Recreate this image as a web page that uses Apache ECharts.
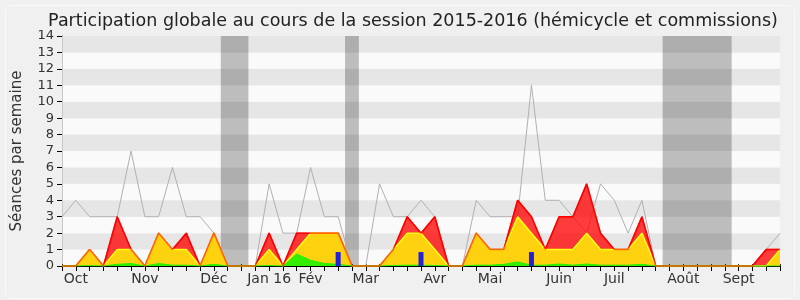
<!DOCTYPE html>
<html>
<head>
<meta charset="utf-8">
<script src="https://cdn.jsdelivr.net/npm/echarts@6/dist/echarts.min.js"></script>
<style>html,body{margin:0;padding:0;background:#f0f0f0;}#c{width:800px;height:300px;}</style>
</head>
<body>
<div id="c"></div>
<script>
// Week index (0 = first week of the session)
const weeks = [0,1,2,3,4,5,6,7,8,9,10,11,12,13,14,15,16,17,18,19,20,21,22,23,24,25,26,27,28,29,30,31,32,33,34,35,36,37,38,39,40,41,42,43,44,45,46,47,48,49,50,51,52];
// Total séances (grey line)
const totalSeances = [3,4,3,3,3,7,3,3,6,3,3,2,0,0,0,5,2,2,6,3,3,0,0,5,3,3,4,3,0,0,4,3,3,3,11,4,4,3,2,5,4,2,4,0,0,0,0,0,0,0,0,1,2];
// Présences (red area)
const presences = [0,0,1,0,3,1,0,2,1,2,0,2,0,0,0,2,0,2,2,2,2,0,0,0,1,3,2,3,0,0,2,1,1,4,3,1,3,3,5,2,1,1,3,0,0,0,0,0,0,0,0,1,1];
// Présences hémicycle/commission (yellow area)
const presencesCommission = [0,0,1,0,1,1,0,2,1,1,0,2,0,0,0,1,0,1,2,2,2,0,0,0,1,2,2,1,0,0,2,1,1,3,2,1,1,1,2,1,1,1,2,0,0,0,0,0,0,0,0,0,1];
// Interventions (green area)
const interventions = [0,0,0.02,0,0.1,0.15,0,0.15,0.05,0.05,0,0.1,0,0,0,0.03,0,0.73,0.35,0.15,0.1,0,0,0,0.03,0.05,0.05,0.03,0,0,0.05,0.05,0.1,0.25,0.05,0.05,0.12,0.05,0.12,0.05,0.05,0.05,0.1,0,0,0,0,0,0,0,0,0,0];
// Questions orales (blue bars)
const questionWeeks = [20, 26, 34];
const questionValues = [0.85, 0.85, 0.85];
// Vacations (grey bands), in weeks
const vacStart = [11.5, 20.5, 43.5];
const vacEnd = [13.5, 21.5, 48.5];
// Month tick labels
const monthWeeks = [1, 6, 11, 15, 18, 22, 27, 31, 36, 40, 45, 49];
const monthLabels = ['Oct', 'Nov', 'Déc', 'Jan 16', 'Fév', 'Mar', 'Avr', 'Mai', 'Juin', 'Juil', 'Août', 'Sept'];
const yTicks = [0,1,2,3,4,5,6,7,8,9,10,11,12,13,14];

const FONT = 'DejaVu Sans';
const pairs = arr => weeks.map((w, i) => [w, arr[i]]);
const labelMap = {};
monthWeeks.forEach((w, i) => { labelMap[w] = monthLabels[i]; });

const chart = echarts.init(document.getElementById('c'), null, {renderer: 'canvas'});
chart.setOption({
  animation: false,
  backgroundColor: '#f0f0f0',
  title: {
    text: 'Participation globale au cours de la session 2015-2016 (hémicycle et commissions)',
    left: 408, top: 7, textAlign: 'center',
    textStyle: {fontFamily: FONT, fontSize: 17.5, fontWeight: 'normal', color: '#222'}
  },
  graphic: [{
    type: 'rect', left: 3, top: 3, z: -1, silent: true,
    shape: {width: 789, height: 293, r: 6},
    style: {fill: 'none', stroke: '#fbfbfb', lineWidth: 1}
  }],
  grid: {left: 62, right: 20, top: 36, bottom: 34},
  xAxis: [{
    type: 'value', min: 0, max: 52, interval: 1,
    axisLine: {show: true, lineStyle: {color: '#000', width: 1}},
    axisTick: {show: true, length: 5, lineStyle: {color: '#000'}},
    axisLabel: {
      interval: 0, margin: 6, showMinLabel: true, showMaxLabel: true,
      fontFamily: FONT, fontSize: 14, color: '#333',
      formatter: v => labelMap[v] || ''
    },
    splitLine: {show: false}
  }, {
    type: 'value', min: 0, max: 52, interval: 1, position: 'top',
    axisLine: {show: false},
    axisTick: {show: true, length: 2, lineStyle: {color: '#333'}},
    axisLabel: {show: false},
    splitLine: {show: false}
  }],
  yAxis: [{
    type: 'value', min: 0, max: 14, interval: 1,
    name: 'Séances par semaine', nameLocation: 'middle', nameGap: 37, nameRotate: 90,
    nameTextStyle: {fontFamily: FONT, fontSize: 15, color: '#333'},
    axisLine: {show: true, lineStyle: {color: '#000'}},
    axisTick: {show: true, length: 5, lineStyle: {color: '#000'}},
    axisLabel: {fontFamily: FONT, fontSize: 13, color: '#333', margin: 8,
      formatter: v => yTicks.indexOf(v) >= 0 ? String(v) : ''},
    splitLine: {show: false},
    splitArea: {show: true, areaStyle: {color: ['#fafafa', '#e6e6e6']}}
  }, {
    type: 'value', min: 0, max: 14, interval: 1, position: 'right',
    axisLine: {show: true, lineStyle: {color: '#c8c8c8'}},
    axisTick: {show: false}, axisLabel: {show: false},
    splitLine: {show: false}, splitArea: {show: false}
  }],
  series: [
    {
      name: 'vacances', type: 'line', data: [], z: 1,
      markArea: {
        silent: true,
        itemStyle: {color: 'rgba(0,0,0,0.245)'},
        data: vacStart.map((s, i) => [{xAxis: s}, {xAxis: vacEnd[i]}])
      }
    },
    {
      name: 'Séances', type: 'line', data: pairs(totalSeances), z: 2,
      symbol: 'none', lineStyle: {color: '#b0b0b0', width: 1}
    },
    {
      name: 'Présences', type: 'line', data: pairs(presences), z: 3,
      symbol: 'none', lineStyle: {color: '#ff0000', width: 1.5},
      areaStyle: {color: 'rgba(255,0,0,0.76)', opacity: 1}
    },
    {
      name: 'Présences commission', type: 'line', data: pairs(presencesCommission), z: 4,
      symbol: 'none', lineStyle: {color: '#ffff10', width: 1.5},
      areaStyle: {color: '#ffd20f', opacity: 1}
    },
    {
      name: 'Interventions', type: 'line', data: pairs(interventions), z: 5,
      symbol: 'none', lineStyle: {color: '#22ee00', width: 1},
      areaStyle: {color: '#33ee00', opacity: 1}
    },
    {
      name: 'Présences (contour)', type: 'line', data: pairs(presences), z: 6,
      symbol: 'none', lineStyle: {color: 'rgba(255,0,0,0.6)', width: 1.5}
    },
    {
      name: 'Questions orales', type: 'bar', z: 7, barWidth: 5,
      data: questionWeeks.map((w, i) => [w, questionValues[i]]),
      itemStyle: {color: '#2222dd'}
    }
  ]
});
</script>
</body>
</html>
